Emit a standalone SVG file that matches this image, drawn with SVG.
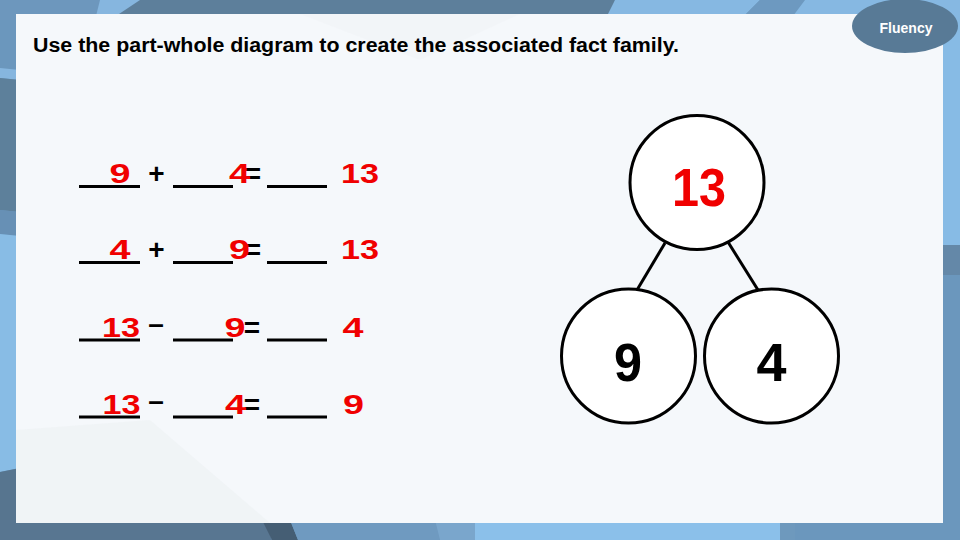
<svg xmlns="http://www.w3.org/2000/svg" width="960" height="540" viewBox="0 0 960 540">
  <style>
    .ul { stroke: #000; stroke-width: 3; }
    .op { font-family: "Liberation Sans", Arial, sans-serif; font-weight: bold; font-size: 28px; fill: #000; text-anchor: middle; }
    .ans { font-family: "Liberation Sans", Arial, sans-serif; font-weight: bold; font-size: 28px; fill: #f00000; text-anchor: middle; }
    .node circle { fill: #fff; stroke: #000; stroke-width: 3; }
    .nlabel { font-family: "Liberation Sans", Arial, sans-serif; font-weight: bold; font-size: 54px; text-anchor: middle; }
    .conn line { stroke: #000; stroke-width: 3; }
  </style>

  <!-- background -->
  <g id="background">
    <rect x="0" y="0" width="960" height="540" fill="#6b97bd"/>
    <!-- top strip -->
    <polygon points="0,0 110,0 100,20 0,20" fill="#6d97bd"/>
    <polygon points="100,0 150,0 120,20 95,20" fill="#86b6df"/>
    <polygon points="140,0 615,0 610,20 110,20" fill="#5d7f9b"/>
    <polygon points="615,0 760,0 740,20 605,20" fill="#86b8e2"/>
    <polygon points="760,0 805,0 790,20 740,20" fill="#6d99c0"/>
    <polygon points="805,0 960,0 960,20 790,20" fill="#86b8e2"/>
    <!-- left strip -->
    <polygon points="0,68 20,70 20,80 0,78" fill="#86b6df"/>
    <polygon points="0,78 20,80 20,212 0,210" fill="#5d809b"/>
    <polygon points="0,210 20,212 20,236 0,234" fill="#6790b5"/>
    <polygon points="0,234 20,236 20,468 0,472" fill="#88bce5"/>
    <polygon points="0,472 20,468 20,540 0,540" fill="#57758f"/>
    <!-- right strip -->
    <rect x="940" y="20" width="20" height="225" fill="#87bbe5"/>
    <rect x="940" y="245" width="20" height="30" fill="#6488a8"/>
    <!-- bottom strip -->
    <polygon points="0,520 265,520 272,540 0,540" fill="#587691"/>
    <polygon points="262,520 290,520 298,540 272,540" fill="#455e74"/>
    <polygon points="290,520 435,520 440,540 298,540" fill="#6f9ac0"/>
    <polygon points="435,520 475,520 475,540 440,540" fill="#7aa6cc"/>
    <rect x="475" y="520" width="305" height="20" fill="#8bc0ea"/>
    <rect x="780" y="520" width="15" height="20" fill="#6e99bd"/>
  </g>

  <!-- panel -->
  <rect id="panel" x="16" y="14" width="927" height="509" fill="#f5f8fb"/>
  <polygon points="16,430 150,420 270,523 16,523" fill="#eff2f5" opacity="0.8"/>
  <polygon points="300,14 520,14 420,60" fill="#f1f4f7" opacity="0.8"/>

  <!-- Fluency badge -->
  <g id="badge">
    <ellipse cx="905" cy="26" rx="53" ry="27" fill="#587a96"/>
    <text x="906" y="33" font-family="Liberation Sans, Arial, sans-serif" font-weight="bold" font-size="14" fill="#fff" text-anchor="middle">Fluency</text>
  </g>

  <!-- title -->
  <text id="title" x="33" y="52" font-family="Liberation Sans, Arial, sans-serif" font-weight="bold" font-size="20" fill="#000" textLength="646" lengthAdjust="spacingAndGlyphs">Use the part-whole diagram to create the associated fact family.</text>

  <!-- fact family equations -->
  <g id="equations">
    <g id="eq1">
      <line class="ul" x1="79" y1="186.5" x2="140" y2="186.5"/>
      <line class="ul" x1="173" y1="186.5" x2="233" y2="186.5"/>
      <line class="ul" x1="267" y1="186.5" x2="327" y2="186.5"/>
      <text class="op" x="156.5" y="183">+</text>
      <text class="op" x="253" y="183">=</text>
      <text class="ans" x="120" y="183" textLength="21" lengthAdjust="spacingAndGlyphs">9</text>
      <text class="ans" x="239.5" y="183" textLength="21" lengthAdjust="spacingAndGlyphs">4</text>
      <text class="ans" x="360" y="183" textLength="38" lengthAdjust="spacingAndGlyphs">13</text>
    </g>
    <g id="eq2">
      <line class="ul" x1="79" y1="262.5" x2="140" y2="262.5"/>
      <line class="ul" x1="173" y1="262.5" x2="233" y2="262.5"/>
      <line class="ul" x1="267" y1="262.5" x2="327" y2="262.5"/>
      <text class="op" x="156.5" y="259">+</text>
      <text class="op" x="253" y="259">=</text>
      <text class="ans" x="120" y="259" textLength="21" lengthAdjust="spacingAndGlyphs">4</text>
      <text class="ans" x="239.5" y="259" textLength="21" lengthAdjust="spacingAndGlyphs">9</text>
      <text class="ans" x="360" y="259" textLength="38" lengthAdjust="spacingAndGlyphs">13</text>
    </g>
    <g id="eq3">
      <line class="ul" x1="79" y1="340" x2="140" y2="340"/>
      <line class="ul" x1="173" y1="340" x2="233" y2="340"/>
      <line class="ul" x1="267" y1="340" x2="327" y2="340"/>
      <text class="op" x="156" y="333">–</text>
      <text class="op" x="252" y="337">=</text>
      <text class="ans" x="121" y="337" textLength="38" lengthAdjust="spacingAndGlyphs">13</text>
      <text class="ans" x="235" y="337" textLength="21" lengthAdjust="spacingAndGlyphs">9</text>
      <text class="ans" x="353" y="337" textLength="21" lengthAdjust="spacingAndGlyphs">4</text>
    </g>
    <g id="eq4">
      <line class="ul" x1="79" y1="417" x2="140" y2="417"/>
      <line class="ul" x1="173" y1="417" x2="233" y2="417"/>
      <line class="ul" x1="267" y1="417" x2="327" y2="417"/>
      <text class="op" x="156" y="410">–</text>
      <text class="op" x="252" y="414">=</text>
      <text class="ans" x="121.5" y="414" textLength="38" lengthAdjust="spacingAndGlyphs">13</text>
      <text class="ans" x="235.5" y="414" textLength="21" lengthAdjust="spacingAndGlyphs">4</text>
      <text class="ans" x="353.5" y="414" textLength="21" lengthAdjust="spacingAndGlyphs">9</text>
    </g>
  </g>

  <!-- connectors -->
  <g id="connectors" class="conn">
    <line x1="665" y1="243" x2="637" y2="290"/>
    <line x1="728" y1="242" x2="758" y2="290"/>
  </g>

  <!-- part-whole nodes -->
  <g id="node-whole" class="node">
    <circle cx="697" cy="182.5" r="67"/>
    <text class="nlabel" x="699" y="206" fill="#f00000" textLength="54" lengthAdjust="spacingAndGlyphs">13</text>
  </g>
  <g id="node-part-9" class="node">
    <circle cx="628.5" cy="356" r="67"/>
    <text class="nlabel" x="628" y="381" fill="#000" textLength="28" lengthAdjust="spacingAndGlyphs">9</text>
  </g>
  <g id="node-part-4" class="node">
    <circle cx="771.5" cy="356" r="67"/>
    <text class="nlabel" x="771.5" y="381" fill="#000" textLength="30" lengthAdjust="spacingAndGlyphs">4</text>
  </g>
</svg>
